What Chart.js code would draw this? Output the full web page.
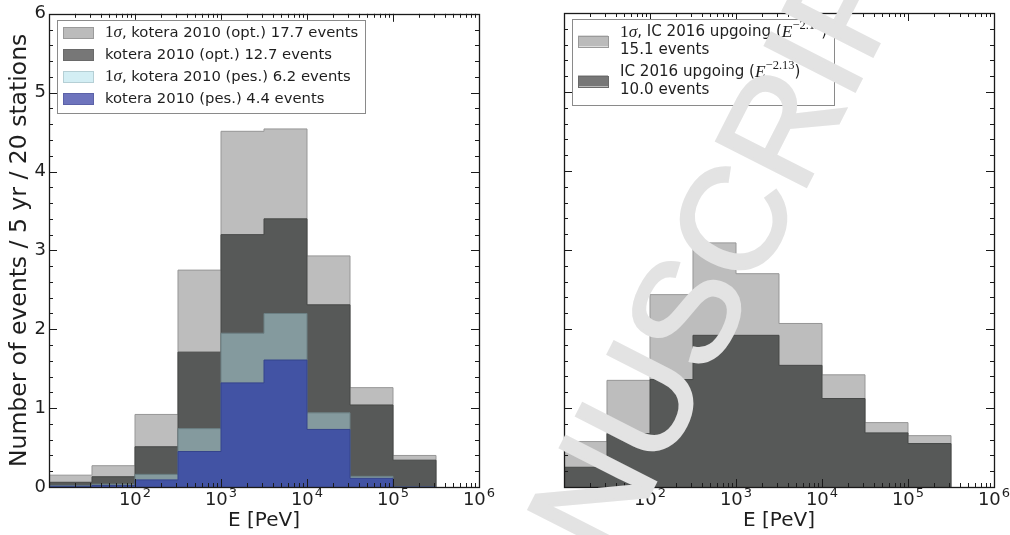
<!DOCTYPE html>
<html>
<head>
<meta charset="utf-8">
<script src="https://cdn.jsdelivr.net/npm/chart.js@4.4.1/dist/chart.umd.min.js"></script>
<style>
  html, body { margin: 0; padding: 0; background: #fff; }
  #wrap { position: relative; width: 1010px; height: 535px; overflow: hidden; }
  .panel { position: absolute; top: 0; width: 505px; height: 535px; }
  #left { left: 0; }
  #right { left: 505px; }
</style>
</head>
<body>
<div id="wrap">
  <div class="panel" id="left"><canvas id="chartL" width="505" height="535"></canvas></div>
  <div class="panel" id="right"><canvas id="chartR" width="505" height="535"></canvas></div>
</div>
<script>
// half-decade energy bins, PeV
const binEdges = [10, 31.62, 100, 316.2, 1000, 3162, 10000, 31623, 100000, 316228];

// left panel: kotera 2010
const koteraOpt1s = [0.15, 0.27, 0.92, 2.75, 4.51, 4.54, 2.93, 1.26, 0.40];
const koteraOpt   = [0.06, 0.13, 0.51, 1.71, 3.20, 3.40, 2.31, 1.04, 0.34];
const koteraPes1s = [0.02, 0.035, 0.16, 0.74, 1.95, 2.20, 0.94, 0.135, 0.0];
const koteraPes   = [0.01, 0.02, 0.09, 0.45, 1.32, 1.61, 0.73, 0.11, 0.0];

// right panel: IceCube 2016 upgoing
const ic1s = [0.575, 1.35, 2.435, 3.09, 2.70, 2.07, 1.42, 0.815, 0.65];
const ic   = [0.25, 0.675, 1.36, 1.92, 1.92, 1.54, 1.12, 0.685, 0.55];

const labelsL = [
    "1σ, kotera 2010 (opt.) 17.7 events",
    "kotera 2010 (opt.) 12.7 events",
    "1σ, kotera 2010 (pes.) 6.2 events",
    "kotera 2010 (pes.) 4.4 events"
];
const labelsR = [
    ["1σ, IC 2016 upgoing (E^{-2.13})", "15.1 events"],
    ["IC 2016 upgoing (E^{-2.13})", "10.0 events"]
];

const xTickValues = [100, 1000, 10000, 100000, 1000000];
const xTickExponents = ["2", "3", "4", "5", "6"];
const yTickValues = [0, 1, 2, 3, 4, 5, 6];

// colours as they look in the plot, and as the legend patches
const C = {
    light: "#bdbdbd", lightEdge: "#979797", lightPatch: "#bbbbbb",
    dark: "#575958", darkEdge: "#464847", darkPatch: "#777777",
    teal: "#849a9e", tealEdge: "#6c8084", tealPatch: "#d3eef4",
    blue: "#4253a4", blueEdge: "#35448c", bluePatch: "#6e74bd"
};

const SANS = '"DejaVu Sans"';
const MATH = '"Liberation Serif"';
const TXT = "#1e1e1e";

function histPoints(vals) {
    const pts = [{ x: binEdges[0], y: 0 }];
    vals.forEach((v, i) => pts.push({ x: binEdges[i], y: v }));
    pts.push({ x: binEdges[binEdges.length - 1], y: 0 });
    return pts;
}

function histSet(label, vals, fill, edge) {
    return {
        label: label,
        data: histPoints(vals),
        stepped: true,
        fill: "origin",
        backgroundColor: fill,
        borderColor: edge,
        borderWidth: 1,
        pointRadius: 0,
        tension: 0
    };
}

/* ===== rich text (1σ and E^{..} in math style) ===== */
function richParts(text, size) {
    const out = [];
    const ms = size * 1.15;
    text.split(/(1σ|E\^\{[^}]*\})/).forEach(tok => {
        if (!tok) return;
        if (tok === "1σ") {
            out.push({ t: "1", font: ms + "px " + MATH });
            out.push({ t: "σ", font: "italic " + ms + "px " + MATH });
        } else if (tok.startsWith("E^")) {
            out.push({ t: "E", font: "italic " + ms + "px " + MATH });
            out.push({ t: tok.slice(3, -1).replace("-", "−"), font: (ms * 0.72) + "px " + MATH, dy: -size * 0.42 });
        } else {
            out.push({ t: tok, font: size + "px " + SANS });
        }
    });
    return out;
}

function richWidth(ctx, parts) {
    let w = 0;
    parts.forEach(p => { ctx.font = p.font; w += ctx.measureText(p.t).width; });
    return w;
}

function drawRich(ctx, parts, x, y) {
    let cx = x;
    parts.forEach(p => {
        ctx.font = p.font;
        ctx.fillText(p.t, cx, y + (p.dy || 0));
        cx += ctx.measureText(p.t).width;
    });
}

/* ===== ticks, frame, tick labels, legend, watermark ===== */
const decor = {
    id: "decor",
    afterDraw(chart, args, opts) {
        const { ctx, chartArea: a, scales: { x, y } } = chart;
        ctx.save();

        ctx.strokeStyle = "#1a1a1a";
        ctx.lineWidth = 1;
        ctx.beginPath();
        // y ticks, major every 1, minor every 0.2
        for (let i = 0; i <= 30; i++) {
            const py = Math.round(y.getPixelForValue(i / 5)) + 0.5;
            const len = i % 5 === 0 ? 8 : 4;
            ctx.moveTo(a.left, py); ctx.lineTo(a.left + len, py);
            ctx.moveTo(a.right, py); ctx.lineTo(a.right - len, py);
        }
        // x ticks, log decades with 2..9 minors
        [10, 100, 1000, 10000, 100000].forEach(d => {
            for (let m = 1; m <= 9; m++) {
                const v = d * m;
                if (v <= 10) continue;
                const px = Math.round(x.getPixelForValue(v)) + 0.5;
                const len = m === 1 ? 8 : 4;
                ctx.moveTo(px, a.bottom); ctx.lineTo(px, a.bottom - len);
                ctx.moveTo(px, a.top); ctx.lineTo(px, a.top + len);
            }
        });
        ctx.stroke();

        // frame
        ctx.lineWidth = 1.3;
        ctx.strokeRect(Math.round(a.left) + 0.5, Math.round(a.top) + 0.5,
            Math.round(a.right - a.left), Math.round(a.bottom - a.top));

        // x tick labels 10^n
        ctx.fillStyle = TXT;
        ctx.textBaseline = "alphabetic";
        ctx.textAlign = "left";
        xTickValues.forEach((v, i) => {
            const px = x.getPixelForValue(v);
            ctx.font = "18px " + SANS;
            const w1 = ctx.measureText("10").width;
            ctx.font = "13px " + SANS;
            const w2 = ctx.measureText(xTickExponents[i]).width;
            const start = px - (w1 + 1 + w2) / 2;
            ctx.font = "18px " + SANS;
            ctx.fillText("10", start, 505);
            ctx.font = "13px " + SANS;
            ctx.fillText(xTickExponents[i], start + w1 + 1, 497);
        });

        // legend
        const lg = opts.legend;
        if (lg) {
            const size = lg.fontSize;
            const rows = lg.items.map(it => ({ it: it, lines: it.lines.map(l => richParts(l, size)) }));
            let maxW = 0;
            rows.forEach(r => r.lines.forEach(p => { maxW = Math.max(maxW, richWidth(ctx, p)); }));
            const bx = a.left + 8, by = a.top + 6;
            const bw = 48 + maxW + 7;
            let bh = 0;
            rows.forEach((r, i) => { bh = lg.first + i * lg.rowStep + (r.lines.length - 1) * lg.lineStep; });
            bh += lg.last;
            ctx.fillStyle = "#ffffff";
            ctx.fillRect(bx, by, bw, bh);
            ctx.strokeStyle = "#8a8a8a";
            ctx.lineWidth = 1;
            ctx.strokeRect(Math.round(bx) + 0.5, Math.round(by) + 0.5, Math.round(bw), Math.round(bh));
            ctx.textBaseline = "middle";
            rows.forEach((r, i) => {
                const cy0 = by + lg.first + i * lg.rowStep;
                const cyMid = cy0 + (r.lines.length - 1) * lg.lineStep / 2;
                ctx.fillStyle = r.it.patch;
                ctx.fillRect(bx + 6, cyMid - 5.5, 30, 11);
                ctx.strokeStyle = r.it.edge;
                ctx.strokeRect(Math.round(bx + 6) + 0.5, Math.round(cyMid - 5.5) + 0.5, 30, 11);
                ctx.fillStyle = TXT;
                r.lines.forEach((p, j) => drawRich(ctx, p, bx + 48, cy0 + j * lg.lineStep));
            });
        }

        // watermark
        if (opts.watermark) {
            ctx.font = "146px \"Liberation Sans\"";
            ctx.fillStyle = "#e3e3e3";
            ctx.strokeStyle = "#e3e3e3";
            ctx.lineWidth = 3;
            ctx.textBaseline = "middle";
            ctx.textAlign = "left";
            const txt = "ACCEPTED MANUSCRIPT";
            const pre = ctx.measureText("ACCEPTED MANU").width;
            const sW = ctx.measureText("S").width;
            ctx.translate(opts.watermark.x, opts.watermark.y);
            ctx.rotate(opts.watermark.angle * Math.PI / 180);
            ctx.fillText(txt, -(pre + sW / 2), 0);
            ctx.strokeText(txt, -(pre + sW / 2), 0);
        }
        ctx.restore();
    }
};

function makeChart(id, datasets, o) {
    return new Chart(document.getElementById(id), {
        type: "line",
        data: { datasets: datasets },
        options: {
            responsive: false,
            animation: false,
            events: [],
            layout: { padding: { left: 0, top: 13, right: o.padRight, bottom: 0 } },
            scales: {
                x: {
                    type: "logarithmic",
                    min: 10,
                    max: 1000000,
                    grid: { display: false, drawTicks: false },
                    border: { display: false },
                    ticks: { display: false },
                    afterFit: s => { s.height = 48; },
                    title: {
                        display: true, text: "E [PeV]", color: TXT,
                        font: { family: "DejaVu Sans", size: 20 },
                        padding: { top: 0, bottom: 2 }
                    }
                },
                y: {
                    min: 0,
                    max: 6,
                    grid: { display: false, drawTicks: false },
                    border: { display: false },
                    afterBuildTicks: s => { s.ticks = yTickValues.map(v => ({ value: v })); },
                    ticks: {
                        display: o.yLabels, color: TXT, padding: 3,
                        font: { family: "DejaVu Sans", size: 18 }
                    },
                    afterFit: s => { s.width = o.yWidth; },
                    title: {
                        display: o.yLabels,
                        text: "Number of events / 5 yr / 20 stations",
                        color: TXT,
                        font: { family: "DejaVu Sans", size: 23.5, lineHeight: 1 },
                        padding: { top: 8, bottom: 0 }
                    }
                }
            },
            plugins: {
                legend: { display: false },
                tooltip: { enabled: false },
                decor: { legend: o.legend, watermark: o.watermark }
            }
        },
        plugins: [decor]
    });
}

// index 0 is drawn on top
makeChart("chartL", [
    histSet(labelsL[3], koteraPes, C.blue, C.blueEdge),
    histSet(labelsL[2], koteraPes1s, C.teal, C.tealEdge),
    histSet(labelsL[1], koteraOpt, C.dark, C.darkEdge),
    histSet(labelsL[0], koteraOpt1s, C.light, C.lightEdge)
], {
    padRight: 26, yWidth: 49, yLabels: true,
    legend: {
        fontSize: 14.8, first: 13, rowStep: 22, lineStep: 0, last: 14,
        items: [
            { lines: [labelsL[0]], patch: C.lightPatch, edge: "#9a9a9a" },
            { lines: [labelsL[1]], patch: C.darkPatch, edge: "#6a6a6a" },
            { lines: [labelsL[2]], patch: C.tealPatch, edge: "#b5cfd5" },
            { lines: [labelsL[3]], patch: C.bluePatch, edge: "#5c62a8" }
        ]
    },
    watermark: null
});

makeChart("chartR", [
    histSet(labelsR[1].join(" "), ic, C.dark, C.darkEdge),
    histSet(labelsR[0].join(" "), ic1s, C.light, C.lightEdge)
], {
    padRight: 16, yWidth: 59, yLabels: false,
    legend: {
        fontSize: 15.1, first: 13, rowStep: 40, lineStep: 18, last: 15,
        items: [
            { lines: labelsR[0], patch: C.lightPatch, edge: "#9a9a9a" },
            { lines: labelsR[1], patch: C.darkPatch, edge: "#6a6a6a" }
        ]
    },
    watermark: { x: 190, y: 316, angle: -63 }
});
</script>
</body>
</html>
